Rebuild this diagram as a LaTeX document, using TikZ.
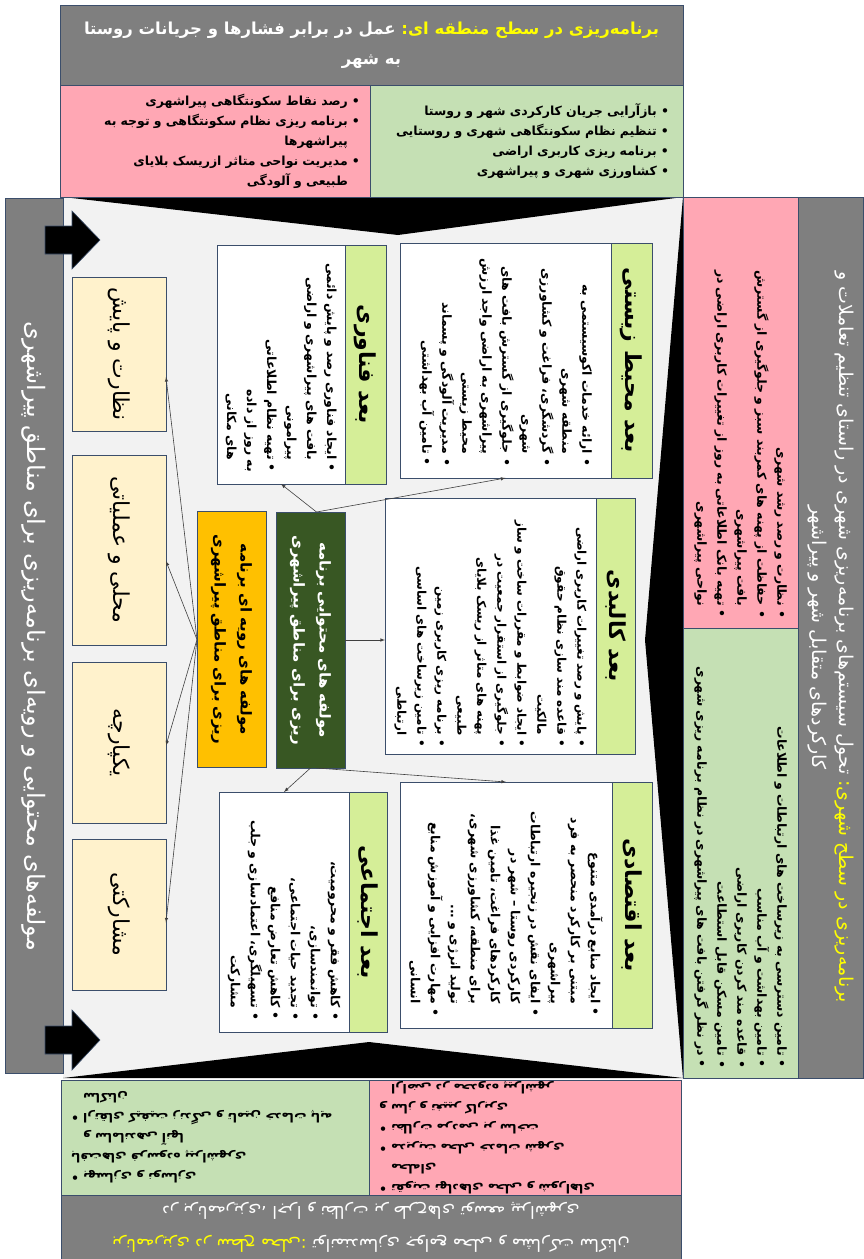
\documentclass[tikz,border=0pt]{standalone}
\usepackage{fontspec}
\usepackage{xcolor}
\usetikzlibrary{arrows}
\TeXXeTstate=1
\newfontfamily\fa[Script=Arabic]{DejaVu Sans}
\newcommand{\rtlline}[1]{\beginR #1\endR}
\newcommand{\dotmark}{•\ }
\newcommand{\hangpad}{\hphantom{•\ }}

\definecolor{panelgray}{HTML}{7F7F7F}
\definecolor{rosebox}{HTML}{FFA7B4}
\definecolor{sagebox}{HTML}{C5E0B4}
\definecolor{limehead}{HTML}{D5EE98}
\definecolor{cream}{HTML}{FFF2CC}
\definecolor{forest}{HTML}{385723}
\definecolor{amber}{HTML}{FFC000}
\definecolor{fog}{HTML}{F2F2F2}
\definecolor{edgeblue}{HTML}{3B4E6B}
\definecolor{sun}{HTML}{FFFF00}
\definecolor{linkgray}{HTML}{404040}

\tikzset{
  box/.style={draw=edgeblue, line width=0.6pt, inner sep=0pt, outer sep=0pt},
  graypanel/.style={box, fill=panelgray, text=white, align=center, font=\fa\fontsize{19}{27}\selectfont},
  listbox/.style={box, inner xsep=10pt, align=right, font=\fa\bfseries\fontsize{12.5}{20}\selectfont},
  card/.style={listbox, fill=white, rotate=-90},
  headstrip/.style={box, fill=limehead, rotate=-90, font=\fa\bfseries\fontsize{22}{26}\selectfont},
  creambox/.style={box, fill=cream, rotate=-90, minimum height=94pt, font=\fa\fontsize{22}{26}\selectfont},
  hubbox/.style={box, rotate=-90, minimum width=256pt, minimum height=69pt, align=center, font=\fa\bfseries\fontsize{15}{26}\selectfont},
  link/.style={-latex, draw=linkgray, line width=0.6pt},
  bigarrow/.style={fill=black, draw=edgeblue, line width=0.6pt}
}

\begin{document}
\begin{tikzpicture}[x=1pt,y=-1pt]
\useasboundingbox (0,0) rectangle (863,1259);
\fill[white] (0,0) rectangle (863,1259);
\fill[fog] (63,197) rectangle (683,1078);
\fill[black] (63,197) -- (683,197) -- (398,235) -- cycle;
\fill[black] (63,1078) -- (683,1078) -- (369,1042) -- cycle;
\fill[black] (683,197) -- (683,1078) -- (645,640) -- cycle;

\node[graypanel, minimum width=623pt, minimum height=80pt, font=\fa\bfseries\fontsize{16.5}{30}\selectfont] (regiontitle) at (371.5,45) {\rtlline{عمل در برابر فشارها و جریانات روستا}\ \textcolor{sun}{\rtlline{برنامه‌ریزی در سطح منطقه ای:}}\\ \rtlline{به شهر}};
\node[listbox, fill=rosebox, minimum width=310pt, minimum height=112pt, text width=290pt] (regionrose) at (215,141) {\rtlline{\dotmark رصد نقاط سکونتگاهی پیراشهری}\\ \rtlline{\dotmark برنامه ریزی نظام سکونتگاهی و توجه به}\\ \rtlline{\hangpad پیراشهرها}\\ \rtlline{\dotmark مدیریت نواحی متاثر ازریسک بلایای}\\ \rtlline{\hangpad طبیعی و آلودگی}};
\node[listbox, fill=sagebox, inner xsep=14pt, minimum width=313pt, minimum height=112pt, text width=285pt] (regionsage) at (526.5,141) {\rtlline{\dotmark بازآرایی جریان کارکردی شهر و روستا}\\ \rtlline{\dotmark تنظیم نظام سکونتگاهی شهری و روستایی}\\ \rtlline{\dotmark برنامه ریزی کاربری اراضی}\\ \rtlline{\dotmark کشاورزی شهری و پیراشهری}};

\node[graypanel, rotate=-90, minimum width=875pt, minimum height=58pt, font=\fa\fontsize{24}{27}\selectfont] (leftpanel) at (34,636) {\rtlline{مولفه‌های محتوایی و رویه‌ای برنامه‌ریزی برای مناطق پیراشهری}};
\node[graypanel, rotate=-90, minimum width=881pt, minimum height=65pt] (citypanel) at (830.5,637.5) {\rtlline{تحول سیستم‌های برنامه‌ریزی شهری در راستای تنظیم تعاملات و}\ \textcolor{sun}{\rtlline{برنامه‌ریزی در سطح شهری:}}\\ \rtlline{کارکردهای متقابل شهر و پیراشهر}};
\node[listbox, fill=rosebox, rotate=-90, minimum width=431pt, minimum height=115pt, text width=411pt] (cityrose) at (740.5,412.5) {\rtlline{\dotmark نظارت و رصد رشد شهری}\\ \rtlline{\dotmark حفاظت از پهنه های کمربند سبز و جلوگیری از گسترش}\\ \rtlline{\hangpad بافت پیراشهری}\\ \rtlline{\dotmark تهیه بانک اطلاعاتی به روز از تغییرات کاربری اراضی در}\\ \rtlline{\hangpad نواحی پیراشهری}};
\node[listbox, fill=sagebox, rotate=-90, minimum width=450pt, minimum height=115pt, text width=430pt] (citysage) at (740.5,853) {\rtlline{\dotmark تامین دسترسی به زیرساخت های ارتباطات و اطلاعات}\\ \rtlline{\dotmark تامین بهداشت و آب مناسب}\\ \rtlline{\dotmark قاعده مند کردن کاربری اراضی}\\ \rtlline{\dotmark تامین مسکن قابل استطاعت}\\ \rtlline{\dotmark در نظر گرفتن بافت های پیراشهری در نظام برنامه ریزی شهری}};

\node[listbox, fill=sagebox, rotate=180, minimum width=308pt, minimum height=115pt, text width=288pt] (localsage) at (215,1137.5) {\rtlline{\dotmark بهسازی و نوسازی بافت‌های فرسوده پیراشهری}\\ \rtlline{\hangpad و ساماندهی آنها}\\ \rtlline{\dotmark ارتقای کیفیت زندگی و تامین خدمات پایه}\\ \rtlline{\hangpad ساکنان}};
\node[listbox, fill=rosebox, rotate=180, minimum width=312pt, minimum height=115pt, text width=292pt] (localrose) at (525,1137.5) {\rtlline{\dotmark تقویت نهادهای محلی و شوراهای}\\ \rtlline{\hangpad محله‌ای}\\ \rtlline{\dotmark مدیریت محلی خدمات شهری}\\ \rtlline{\dotmark نظارت مردمی بر ساخت و ساز و تغییر کاربری}\\ \rtlline{\hangpad اراضی در محدوده پیراشهر}};
\node[graypanel, rotate=180, minimum width=620pt, minimum height=64pt, font=\fa\fontsize{17}{33}\selectfont] (localtitle) at (371,1227) {\rtlline{توانمندسازی جوامع محلی و مشارکت ساکنان}\ \textcolor{sun}{\rtlline{برنامه‌ریزی در سطح محلی:}}\\ \rtlline{در برنامه‌ریزی، اجرا و نظارت بر طرح‌های توسعه پیراشهری}};

\draw[bigarrow] (45,226) -- (72,226) -- (72,211) -- (100,240) -- (72,269) -- (72,254) -- (45,254) -- cycle;
\draw[bigarrow] (45,1026) -- (72,1026) -- (72,1010) -- (100,1040) -- (72,1070) -- (72,1054) -- (45,1054) -- cycle;

\node[creambox, minimum width=154pt] (watch) at (119,354) {\rtlline{نظارت و پایش}};
\node[creambox, minimum width=190pt] (local) at (119,550) {\rtlline{محلی و عملیاتی}};
\node[creambox, minimum width=161pt] (unified) at (119,742.5) {\rtlline{یکپارچه}};
\node[creambox, minimum width=151pt] (sharing) at (119,914.5) {\rtlline{مشارکتی}};

\node[hubbox, fill=forest, text=white] (content) at (310.5,640) {\rtlline{مولفه های محتوایی برنامه}\\ \rtlline{ریزی برای مناطق پیراشهری}};
\node[hubbox, fill=amber] (process) at (231.5,639.5) {\rtlline{مولفه های رویه ای برنامه}\\ \rtlline{ریزی برای مناطق پیراشهری}};

\node[card, minimum width=239pt, minimum height=128pt, text width=215pt] (techcard) at (281,364.5) {\rtlline{\dotmark ایجاد فناوری رصد و پایش دائمی}\\ \rtlline{\hangpad بافت های پیراشهری و اراضی}\\ \rtlline{\hangpad پیرامونی}\\ \rtlline{\dotmark تهیه نظام اطلاعاتی به روز از داده}\\ \rtlline{\hangpad های مکانی}};
\node[headstrip, minimum width=239pt, minimum height=41pt] (techhead) at (365.5,364.5) {\rtlline{بعد فناوری}};

\node[card, minimum width=235pt, minimum height=211pt, text width=211pt] (envcard) at (505.5,360.5) {\rtlline{\dotmark ارائه خدمات اکوسیستمی به}\\ \rtlline{\hangpad منطقه شهری}\\ \rtlline{\dotmark گردشگری، فراغت و کشاورزی}\\ \rtlline{\hangpad شهری}\\ \rtlline{\dotmark جلوگیری از گسترش بافت های}\\ \rtlline{\hangpad پیراشهری به اراضی واجد ارزش}\\ \rtlline{\hangpad محیط زیستی}\\ \rtlline{\dotmark مدیریت آلودگی و پسماند}\\ \rtlline{\dotmark تامین آب بهداشتی}};
\node[headstrip, minimum width=235pt, minimum height=41pt] (envhead) at (631.5,360.5) {\rtlline{بعد محیط زیستی}};

\node[card, inner xsep=7pt, minimum width=256pt, minimum height=211pt, text width=242pt, font=\fa\bfseries\fontsize{12}{20}\selectfont] (physcard) at (490.5,626) {\rtlline{\dotmark پایش و رصد تغییرات کاربری اراضی}\\ \rtlline{\dotmark قاعده مند سازی نظام حقوق}\\ \rtlline{\hangpad مالکیت}\\ \rtlline{\dotmark ایجاد ضوابط و مقررات ساخت و ساز}\\ \rtlline{\dotmark جلوگیری از استقرار جمعیت در}\\ \rtlline{\hangpad پهنه های متاثر از ریسک بلایای}\\ \rtlline{\hangpad طبیعی}\\ \rtlline{\dotmark برنامه ریزی کاربری زمین}\\ \rtlline{\dotmark تامین زیرساخت های اساسی}\\ \rtlline{\hangpad ارتباطی}};
\node[headstrip, minimum width=256pt, minimum height=39pt] (physhead) at (615.5,626) {\rtlline{بعد کالبدی}};

\node[card, minimum width=246pt, minimum height=212pt, text width=222pt] (econcard) at (506,905) {\rtlline{\dotmark ایجاد منابع درآمدی متنوع}\\ \rtlline{\hangpad مبتنی بر کارکرد منحصر به فرد}\\ \rtlline{\hangpad پیراشهری}\\ \rtlline{\dotmark ایفای نقش در زنجیره ارتباطات}\\ \rtlline{\hangpad کارکردی روستا – شهر در}\\ \rtlline{\hangpad کارکردهای فراغت، تامین غذا}\\ \rtlline{\hangpad برای منطقه، کشاورزی شهری،}\\ \rtlline{\hangpad تولید انرژی و ...}\\ \rtlline{\dotmark مهارت افزایی و آموزش منابع}\\ \rtlline{\hangpad انسانی}};
\node[headstrip, minimum width=246pt, minimum height=40pt] (econhead) at (632,905) {\rtlline{بعد اقتصادی}};

\node[card, minimum width=240pt, minimum height=130pt, text width=216pt] (socialcard) at (284,912) {\rtlline{\dotmark کاهش فقر و محرومیت،}\\ \rtlline{\dotmark توانمندسازی،}\\ \rtlline{\dotmark تجدید حیات اجتماعی،}\\ \rtlline{\dotmark کاهش تعارض منافع}\\ \rtlline{\dotmark تسهیلگری، اعتمادسازی و جلب}\\ \rtlline{\hangpad مشارکت}};
\node[headstrip, minimum width=240pt, minimum height=38pt] (socialhead) at (368,912) {\rtlline{بعد اجتماعی}};

\draw[link] ([xshift=6pt]content.west) -- (techcard.east);
\draw[link] ([xshift=6pt]content.west) -- (envcard.east);
\draw[link] (content.north) -- (content.north -| physcard.south);
\draw[link] (content.east) -- (socialcard.west);
\draw[link] ([xshift=6pt]content.east) -- (econcard.west);
\draw[link] (process.south) -- ([yshift=-23pt]watch.north);
\draw[link] (process.south) -- ([yshift=-11pt]local.north);
\draw[link] (process.south) -- ([yshift=-3pt]unified.north);
\draw[link] (process.south) -- ([yshift=-8pt]sharing.north);
\end{tikzpicture}
\end{document}
